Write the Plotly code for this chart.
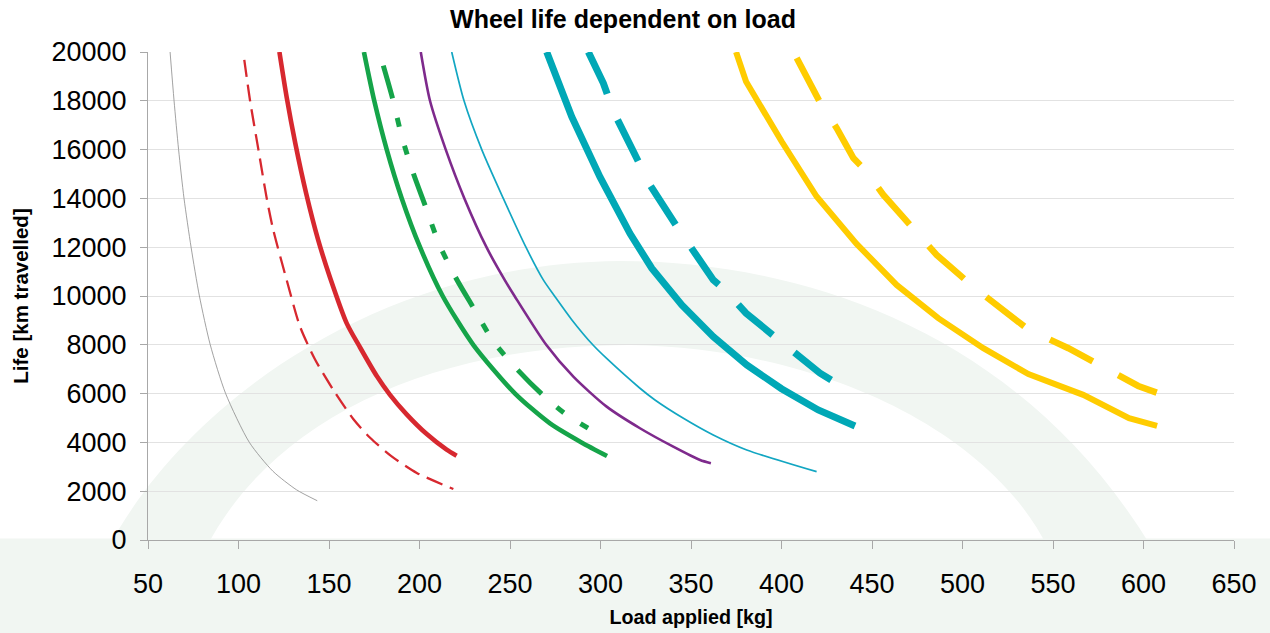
import plotly.graph_objects as go

# ---- data ----
gray_load = [62.2, 64.4, 66.9, 69.9, 73.8, 78.4, 84.4, 92.9, 106.0, 119.0, 132.0, 143.5]
gray_life = [20000, 18000, 16000, 14000, 12000, 10000, 8000, 6000, 4000, 2820, 2060, 1610]

red_dash_load = [103.2, 106.4, 111.0, 115.6, 119.2, 126.6, 134.0, 142.3, 152.4, 163.4, 172.7, 184.6, 198.5, 218.7]
red_dash_life = [19680, 18000, 16000, 14000, 12710, 10660, 8745, 7400, 6150, 4960, 4190, 3430, 2750, 2090]

red_load = [122.6, 126.6, 131.4, 137.4, 144.0, 150.6, 159.8, 167.1, 176.4, 183.7, 192.9, 204.0, 215.0, 220.5]
red_life = [20000, 18150, 16250, 14200, 12300, 10750, 8880, 7900, 6720, 5950, 5150, 4340, 3700, 3450]

green_load = [169.3, 175.0, 181.9, 190.2, 200.3, 212.8, 229.7, 252.8, 272.1, 289.5, 303.6]
green_life = [20000, 18000, 16000, 14000, 12000, 10000, 8000, 6000, 4780, 4000, 3445]

green_dd_load = [180.0, 185.0, 190.5, 196.6, 203.0, 211.0, 220.2, 229.4, 241.0, 254.6, 267.5, 280.0, 293.8]
green_dd_life = [19440, 18130, 16450, 15030, 13735, 12100, 10730, 9566, 8120, 6940, 5985, 5200, 4550]

purple_load = [200.7, 205.8, 214.5, 224.8, 237.0, 247.2, 252.5, 270.0, 285.0, 303.4, 321.8, 340.2, 355.0, 361.0]
purple_life = [20000, 18000, 16000, 14000, 12000, 10640, 10000, 8000, 6695, 5465, 4580, 3825, 3280, 3150]

cyan_thin_load = [217.8, 224.6, 234.4, 246.3, 258.8, 268.4, 274.6, 284.0, 296.0, 303.4, 321.8, 330.1, 345.8, 362.3, 380.8, 419.4]
cyan_thin_life = [20000, 18000, 16000, 14000, 12000, 10660, 10000, 9040, 7980, 7440, 6220, 5740, 4990, 4305, 3690, 2800]

cyan_load = [270.3, 284.1, 299.7, 316.3, 328.3, 344.9, 362.3, 380.8, 400.0, 420.3, 440.6]
cyan_life = [20000, 17350, 14880, 12560, 11140, 9635, 8336, 7175, 6200, 5330, 4674]

cyan_dash_load = [293.3, 301.6, 307.1, 320.0, 327.3, 342.1, 351.3, 362.3, 368.8, 380.4, 401.9, 415.7, 421.3, 437.8]
cyan_dash_life = [20000, 18720, 17570, 15720, 14560, 12850, 11820, 10660, 10250, 9295, 7995, 7175, 6835, 6080]

yellow_load = [374.9, 380.4, 400.1, 419.4, 441.5, 463.6, 486.6, 511.5, 536.4, 566.7, 592.0, 607.5]
yellow_life = [20000, 18790, 16330, 14076, 12136, 10455, 9090, 7860, 6800, 5950, 4990, 4674]

yellow_dash_load = [408.4, 421.3, 430.5, 439.7, 446.1, 456.3, 464.5, 474.7, 485.7, 506.9, 519.8, 535.4, 542.8, 558.5, 582.4, 597.1, 607.3]
yellow_dash_life = [19750, 17930, 16880, 15650, 15170, 14145, 13460, 12600, 11685, 10320, 9566, 8680, 8405, 7860, 6900, 6314, 6040]

x_ticks = [50, 100, 150, 200, 250, 300, 350, 400, 450, 500, 550, 600, 650]
y_ticks = [0, 2000, 4000, 6000, 8000, 10000, 12000, 14000, 16000, 18000, 20000]

# ---- styles ----
series = [
    (gray_load, gray_life, "#8a8a8a", 0.8, "solid", "spline"),
    (red_dash_load, red_dash_life, "#d7282f", 2.3, "17px,8px", "spline"),
    (red_load, red_life, "#d7282f", 4.6, "solid", "spline"),
    (green_load, green_life, "#15a449", 4.6, "solid", "spline"),
    (green_dd_load, green_dd_life, "#15a449", 5, "34px,20px,9px,20px,9px,20px", "spline"),
    (purple_load, purple_life, "#7e2a8c", 2.6, "solid", "spline"),
    (cyan_thin_load, cyan_thin_life, "#12a6c2", 1.7, "solid", "spline"),
    (cyan_load, cyan_life, "#00a8b6", 7, "solid", "linear"),
    (cyan_dash_load, cyan_dash_life, "#00a8b6", 7, "46px,28px", "linear"),
    (yellow_load, yellow_life, "#ffcc00", 6, "solid", "linear"),
    (yellow_dash_load, yellow_dash_life, "#ffcc00", 6.5, "48px,29px", "linear"),
]

fig = go.Figure()
for xs, ys, col, w, dash, shape in series:
    fig.add_trace(go.Scatter(x=xs, y=ys, mode="lines",
                             line=dict(color=col, width=w, dash=dash, shape=shape,
                                       smoothing=0.7 if shape == "spline" else None),
                             showlegend=False, hoverinfo="skip"))

W, H = 1270, 633
L, R, T, B = 148, 36, 52, 93
PW, PH = W - L - R, H - T - B


def px2paper(px, py):
    return (px - L) / PW, (H - B - py) / PH


def path_from(points_cmds):
    out = []
    for cmd, pts in points_cmds:
        coords = " ".join("%.5f,%.5f" % px2paper(*p) for p in pts)
        out.append(cmd + coords)
    return " ".join(out) + " Z"


bg = "#f1f6f2"
arc_path = path_from([
    ("M", [(108, 548)]),
    ("C", [(188, 400), (380, 263), (620, 261)]),
    ("C", [(800, 261), (1020, 330), (1152, 548)]),
    ("L", [(1048, 548)]),
    ("C", [(990, 430), (820, 348), (630, 345)]),
    ("C", [(430, 345), (272, 420), (206, 548)]),
])

shapes = [
    dict(type="rect", xref="paper", yref="paper",
         x0=px2paper(-5, 0)[0], x1=px2paper(W + 5, 0)[0],
         y0=px2paper(0, 538.5)[1], y1=px2paper(0, H + 5)[1],
         fillcolor=bg, line=dict(width=0), layer="below"),
    dict(type="path", xref="paper", yref="paper", path=arc_path,
         fillcolor=bg, line=dict(width=0), layer="below"),
]

font_family = "Liberation Sans, Arial, Helvetica, sans-serif"

fig.update_layout(
    width=W, height=H,
    margin=dict(l=L, r=R, t=T, b=B, autoexpand=False),
    paper_bgcolor="white",
    plot_bgcolor="rgba(0,0,0,0)",
    shapes=shapes,
    title=dict(text="<b>Wheel life dependent on load</b>", x=623 / W, xanchor="center",
               y=1 - 19 / H, yanchor="middle",
               font=dict(family=font_family, size=25, color="black")),
    font=dict(family=font_family, color="black"),
    showlegend=False,
)

fig.update_xaxes(
    range=[50, 650], tickvals=x_ticks, ticktext=[str(v) for v in x_ticks],
    showgrid=False, zeroline=False,
    showline=True, linecolor="#a8a8a8", linewidth=1,
    ticks="outside", ticklen=8, tickcolor="#a8a8a8", tickwidth=1,
    tickfont=dict(size=27, family=font_family, color="black"),
    ticklabelstandoff=12,
    title=dict(text="<b>Load applied [kg]</b>", font=dict(size=19.7, family=font_family),
               standoff=11),
    automargin=False,
)
fig.update_yaxes(
    range=[0, 20000], tickvals=y_ticks, ticktext=[str(v) for v in y_ticks],
    showgrid=True, gridcolor="#e2e2e2", gridwidth=1, zeroline=False,
    showline=True, linecolor="#a8a8a8", linewidth=1,
    ticks="outside", ticklen=7, tickcolor="#a8a8a8", tickwidth=1,
    tickfont=dict(size=27, family=font_family, color="black"),
    ticklabelstandoff=8,
    title=dict(text="<b>Life [km travelled]</b>", font=dict(size=20.5, family=font_family),
               standoff=17),
    automargin=False,
)

fig.write_html("out.html", config={"displayModeBar": False},
               post_script="document.body.style.margin='0px';")
